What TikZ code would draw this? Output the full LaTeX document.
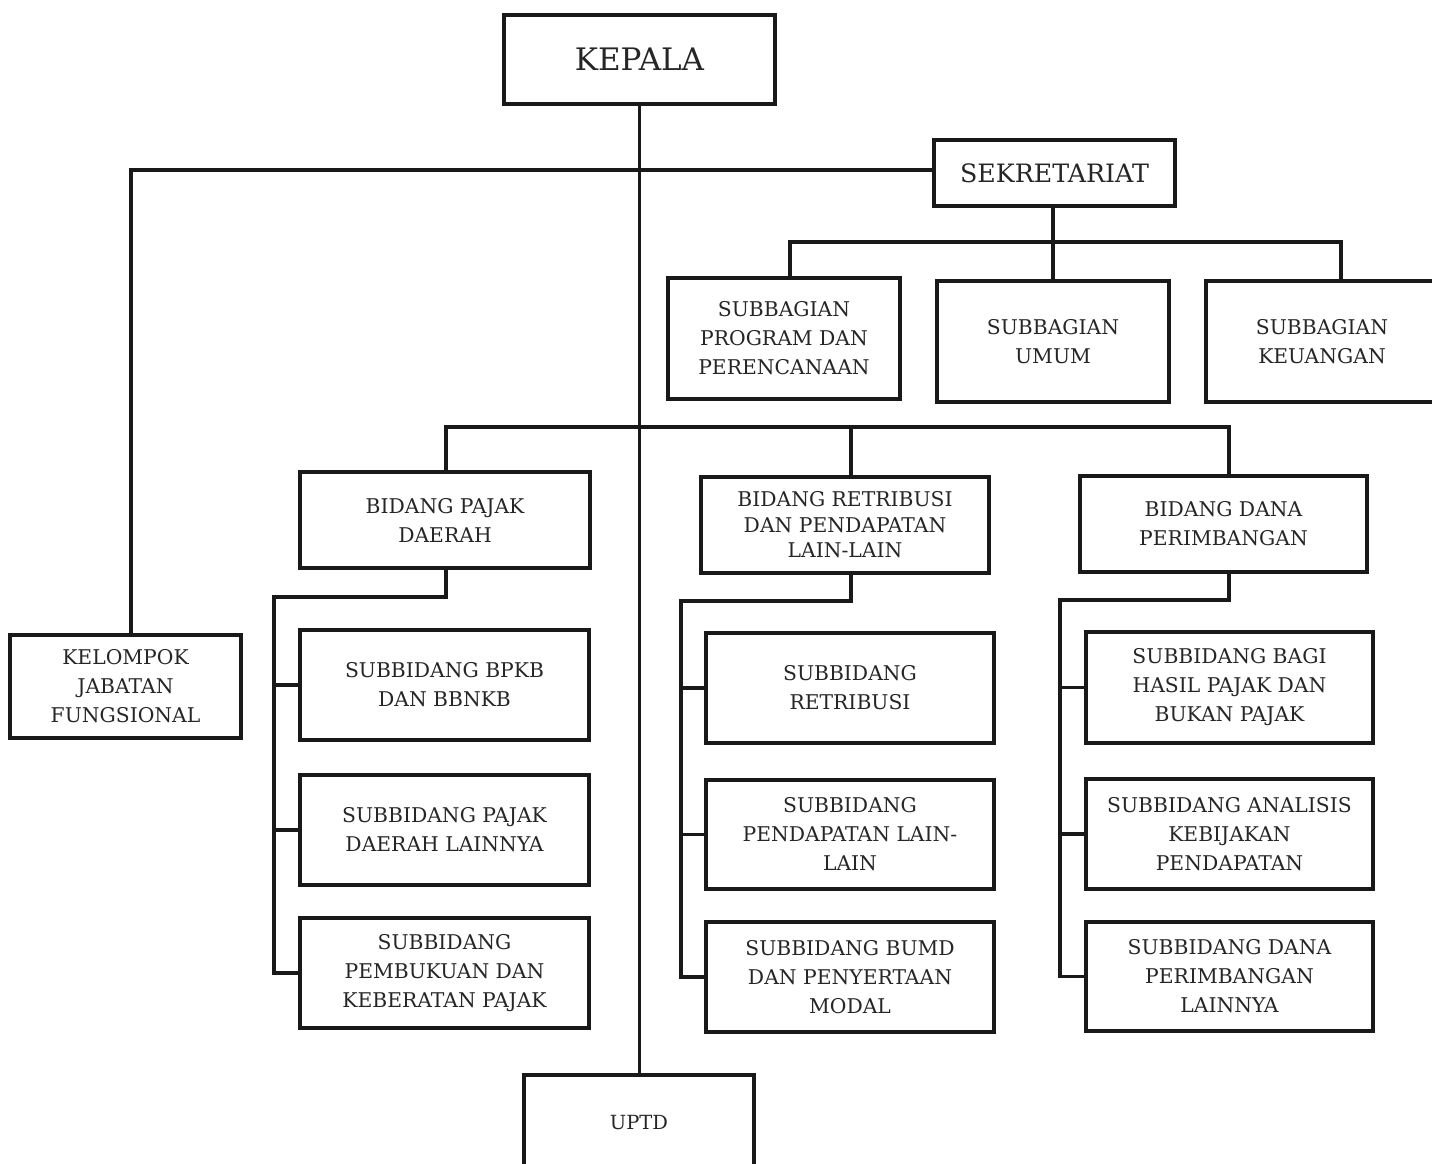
\documentclass[tikz,border=0pt]{standalone}
\usepackage{fontspec}
\setmainfont{DejaVu Serif}
\begin{document}
\begin{tikzpicture}[x=1pt,y=-1pt,
  box/.style={draw=black!90, line width=3.4pt, align=center, inner sep=0pt, text=black!85,
    font=\fontsize{20.3}{29}\selectfont},
  conn/.style={draw=black!90, line width=3.4pt, line join=miter}]
\useasboundingbox (0,0) rectangle (1432,1164);
\clip (0,0) rectangle (1432,1164);
\fill[white] (0,0) rectangle (1432,1164);
% nodes
\node[box, minimum width=271, minimum height=89, font=\fontsize{31}{36}\selectfont] (kepala) at (639.5,59.5) {KEPALA};
\node[box, minimum width=241, minimum height=66, font=\fontsize{25.3}{30}\selectfont] (sek) at (1054.5,173) {SEKRETARIAT};
\node[box, minimum width=232, minimum height=121] (sp) at (784,338.5) {SUBBAGIAN\\PROGRAM DAN\\PERENCANAAN};
\node[box, minimum width=232, minimum height=121] (su) at (1053,341.5) {SUBBAGIAN\\UMUM};
\node[box, minimum width=232, minimum height=121] (sk) at (1322,341.5) {SUBBAGIAN\\KEUANGAN};
\node[box, minimum width=290, minimum height=96] (bpd) at (445,520) {BIDANG PAJAK\\DAERAH};
\node[box, minimum width=288, minimum height=96, font=\fontsize{20.3}{25.5}\selectfont] (bret) at (845,525) {BIDANG RETRIBUSI\\DAN PENDAPATAN\\LAIN-LAIN};
\node[box, minimum width=287, minimum height=96] (bdp) at (1223.5,524) {BIDANG DANA\\PERIMBANGAN};
\node[box, minimum width=231, minimum height=103] (kel) at (125.5,686.5) {KELOMPOK\\JABATAN\\FUNGSIONAL};
\node[box, minimum width=289, minimum height=110] (p1) at (444.5,685) {SUBBIDANG BPKB\\DAN BBNKB};
\node[box, minimum width=289, minimum height=110] (p2) at (444.5,830) {SUBBIDANG PAJAK\\DAERAH LAINNYA};
\node[box, minimum width=289, minimum height=110] (p3) at (444.5,973) {SUBBIDANG\\PEMBUKUAN DAN\\KEBERATAN PAJAK};
\node[box, minimum width=288, minimum height=110] (r1) at (850,688) {SUBBIDANG\\RETRIBUSI};
\node[box, minimum width=288, minimum height=109] (r2) at (850,834.5) {SUBBIDANG\\PENDAPATAN LAIN-\\LAIN};
\node[box, minimum width=288, minimum height=110] (r3) at (850,977) {SUBBIDANG BUMD\\DAN PENYERTAAN\\MODAL};
\node[box, minimum width=287, minimum height=111] (d1) at (1229.5,687.5) {SUBBIDANG BAGI\\HASIL PAJAK DAN\\BUKAN PAJAK};
\node[box, minimum width=287, minimum height=110] (d2) at (1229.5,834) {SUBBIDANG ANALISIS\\KEBIJAKAN\\PENDAPATAN};
\node[box, minimum width=287, minimum height=109] (d3) at (1229.5,976.5) {SUBBIDANG DANA\\PERIMBANGAN\\LAINNYA};
\node[box, minimum width=230, minimum height=96, font=\fontsize{19.5}{24}\selectfont] (uptd) at (639,1123) {UPTD};
% bus and junction coordinates
\coordinate (busS) at (0,242);
\coordinate (busB) at (0,427);
\coordinate (busP) at (274,597);
\coordinate (busR) at (681,601);
\coordinate (busD) at (1060,600);
\coordinate (kelTop) at ([xshift=5.5pt]kel.north);
\coordinate (sekL) at ([yshift=3pt]sek.west);
\coordinate (spTop) at ([xshift=6pt]sp.north);
\coordinate (skTop) at ([xshift=19pt]sk.north);
\coordinate (bpdTop) at ([xshift=1pt]bpd.north);
\coordinate (bretTop) at ([xshift=6pt]bret.north);
\coordinate (bdpTop) at ([xshift=5.5pt]bdp.north);
\coordinate (bpdBot) at ([xshift=1pt]bpd.south);
\coordinate (bretBot) at ([xshift=6pt]bret.south);
\coordinate (bdpBot) at ([xshift=5.5pt]bdp.south);
% connectors
\draw[conn] (kepala.south) -- (kepala.south |- uptd.north);
\draw[conn] (sekL) -- (sekL -| kelTop) -- (kelTop);
\draw[conn] (su.north |- sek.south) -- (su.north);
\draw[conn] (spTop) -- (spTop |- busS) -- (skTop |- busS) -- (skTop);
\draw[conn] (bpdTop) -- (bpdTop |- busB) -- (bdpTop |- busB) -- (bdpTop);
\draw[conn] (bretTop) -- (bretTop |- busB);
% pajak group
\draw[conn] (bpdBot) -- (bpdBot |- busP) -- (busP) -- (busP |- p3.west) -- (p3.west);
\draw[conn] (busP |- p1.west) -- (p1.west);
\draw[conn] (busP |- p2.west) -- (p2.west);
% retribusi group
\draw[conn] (bretBot) -- (bretBot |- busR) -- (busR) -- (busR |- r3.west) -- (r3.west);
\draw[conn] (busR |- r1.west) -- (r1.west);
\draw[conn] (busR |- r2.west) -- (r2.west);
% dana group
\draw[conn] (bdpBot) -- (bdpBot |- busD) -- (busD) -- (busD |- d3.west) -- (d3.west);
\draw[conn] (busD |- d1.west) -- (d1.west);
\draw[conn] (busD |- d2.west) -- (d2.west);
\end{tikzpicture}
\end{document}
